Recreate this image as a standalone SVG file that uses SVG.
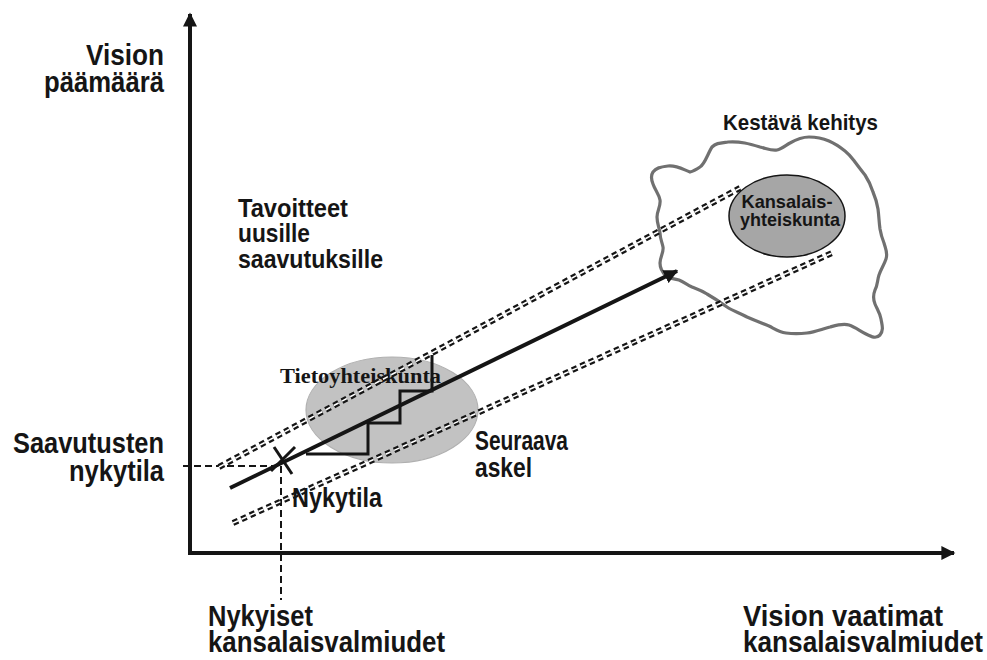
<svg xmlns="http://www.w3.org/2000/svg" width="987" height="660" viewBox="0 0 987 660">
<style>
.t{font-family:"Liberation Sans",Arial,sans-serif;font-weight:bold;fill:#151515}
.s{font-family:"Liberation Serif","Times New Roman",serif;font-weight:bold;fill:#151515}
.ax{stroke:#151515;stroke-width:4;fill:none}
.dash{stroke:#151515;stroke-width:2;stroke-dasharray:7 4;fill:none}
.dd{stroke:#151515;stroke-width:6;stroke-dasharray:5.5 3.8;fill:none}
.ddw{stroke:#fff;stroke-width:1.6;stroke-dasharray:5.5 3.8;fill:none}
.stair{stroke:#151515;stroke-width:3;fill:none}
</style>
<defs>
<marker id="ah" viewBox="0 0 10 10" refX="9" refY="5" markerWidth="3.6" markerHeight="3.6" orient="auto" markerUnits="strokeWidth">
<path d="M0,0 L10,5 L0,10 z" fill="#151515"/>
</marker>
<marker id="ah2" viewBox="0 0 10 10" refX="9" refY="5" markerWidth="3.6" markerHeight="3.5" orient="auto" markerUnits="strokeWidth">
<path d="M0,0 L10,5 L0,10 z" fill="#151515"/>
</marker>
</defs>
<rect width="987" height="660" fill="#fff"/>

<g id="cloud">
<path d="M653,172 C656,168 660,167 668,166 C677,165 684,170 690,172 C694,171 697,169 700,167 C705,164 708,153 712,147 C716,143 720,143 728,142 C740,141 750,144 760,147 C768,149 772,151 777,150 C782,149 786,145 790,143 C797,139 802,137 809,137 C817,137 822,138 829,141 C836,144 840,147 845,151 C850,155 852,158 855,162 C858,166 861,170 865,175 C869,181 871,186 873,192 C876,199 877,203 878,209 C879,217 879,222 880,229 C881,235 882,238 884,243 C886,250 888,253 886,259 C884,265 881,269 879,275 C877,281 878,284 875,290 C873,295 873,299 875,304 C877,309 880,313 881,319 C882,325 884,330 880,335 C876,339 872,337 866,334 C860,331 855,327 849,325 C843,323 837,325 830,327 C822,329 815,332 807,333 C799,334 793,334 786,333 C779,332 775,329 769,326 C761,323 754,320 747,317 C740,313 733,311 727,307 C720,302 714,298 707,294 C701,290 697,289 692,287 C686,284 684,282 679,280 C673,278 669,279 666,276 C662,272 660,268 660,263 C660,257 664,252 663,247 C662,242 660,238 660,233 C659,227 657,223 657,217 C657,211 661,206 660,200 C659,194 655,190 653,184 C651,179 651,175 653,172 Z" fill="none" stroke="#707070" stroke-width="3.2"/>
</g>

<g id="tietoyhteiskunta-ellipse">
<ellipse cx="392" cy="410" rx="86" ry="53" fill="#c2c2c2" stroke="#b0b0b0" stroke-width="1.2"/>
</g>

<g id="label-tietoyhteiskunta">
<text class="s" x="280" y="383" font-size="22" textLength="161" lengthAdjust="spacingAndGlyphs">Tietoyhteiskunta</text>
</g>

<g id="connectors">
<line class="ax" x1="190" y1="555" x2="190" y2="14" marker-end="url(#ah2)"/>
<line class="ax" x1="188" y1="553" x2="954" y2="553" marker-end="url(#ah2)"/>
<line class="dash" x1="183" y1="466" x2="281" y2="466"/>
<line class="dash" x1="281" y1="466" x2="281" y2="600"/>
<line class="dd" x1="219" y1="467" x2="740" y2="188"/>
<line class="ddw" x1="219" y1="467" x2="740" y2="188"/>
<line class="dd" x1="233" y1="523" x2="832" y2="253"/>
<line class="ddw" x1="233" y1="523" x2="832" y2="253"/>
<polyline class="stair" points="306,454 368,454 368,423 400,423 400,391 432,391 432,355"/>
<line x1="230" y1="488" x2="677" y2="271" stroke="#151515" stroke-width="4" marker-end="url(#ah)"/>
<line x1="274" y1="447" x2="292" y2="474" stroke="#151515" stroke-width="3"/>
<line x1="295" y1="447" x2="271" y2="471" stroke="#151515" stroke-width="3"/>
</g>

<g id="kansalaisyhteiskunta">
<ellipse cx="787" cy="216" rx="58" ry="41" fill="#a6a6a6" stroke="#151515" stroke-width="1.5"/>
<text class="t" x="787" y="208" font-size="19" text-anchor="middle" textLength="91" lengthAdjust="spacingAndGlyphs">Kansalais-</text>
<text class="t" x="790" y="226" font-size="19" text-anchor="middle" textLength="100" lengthAdjust="spacingAndGlyphs">yhteiskunta</text>
</g>

<g id="label-kestava">
<text class="t" x="723" y="130" font-size="22" textLength="155" lengthAdjust="spacingAndGlyphs">Kestävä kehitys</text>
</g>

<g id="label-vision-paamaara">
<text class="t" x="164" y="65" font-size="29" text-anchor="end" textLength="78" lengthAdjust="spacingAndGlyphs">Vision</text>
<text class="t" x="164" y="92" font-size="29" text-anchor="end" textLength="120" lengthAdjust="spacingAndGlyphs">päämäärä</text>
</g>

<g id="label-saavutusten">
<text class="t" x="164" y="453" font-size="29" text-anchor="end" textLength="151" lengthAdjust="spacingAndGlyphs">Saavutusten</text>
<text class="t" x="164" y="481" font-size="29" text-anchor="end" textLength="95" lengthAdjust="spacingAndGlyphs">nykytila</text>
</g>

<g id="label-tavoitteet">
<text class="t" x="238" y="217" font-size="25" textLength="110" lengthAdjust="spacingAndGlyphs">Tavoitteet</text>
<text class="t" x="238" y="242" font-size="25" textLength="72" lengthAdjust="spacingAndGlyphs">uusille</text>
<text class="t" x="238" y="268" font-size="25" textLength="145" lengthAdjust="spacingAndGlyphs">saavutuksille</text>
</g>

<g id="label-seuraava">
<text class="t" x="475" y="450" font-size="27" textLength="93" lengthAdjust="spacingAndGlyphs">Seuraava</text>
<text class="t" x="475" y="477" font-size="27" textLength="57" lengthAdjust="spacingAndGlyphs">askel</text>
</g>

<g id="label-nykytila">
<text class="t" x="292" y="507" font-size="28" textLength="90" lengthAdjust="spacingAndGlyphs">Nykytila</text>
</g>

<g id="label-nykyiset">
<text class="t" x="208" y="626" font-size="29" textLength="105" lengthAdjust="spacingAndGlyphs">Nykyiset</text>
<text class="t" x="208" y="652" font-size="29" textLength="237" lengthAdjust="spacingAndGlyphs">kansalaisvalmiudet</text>
</g>

<g id="label-vision-vaatimat">
<text class="t" x="743" y="626" font-size="29" textLength="200" lengthAdjust="spacingAndGlyphs">Vision vaatimat</text>
<text class="t" x="743" y="652" font-size="29" textLength="240" lengthAdjust="spacingAndGlyphs">kansalaisvalmiudet</text>
</g>
</svg>
